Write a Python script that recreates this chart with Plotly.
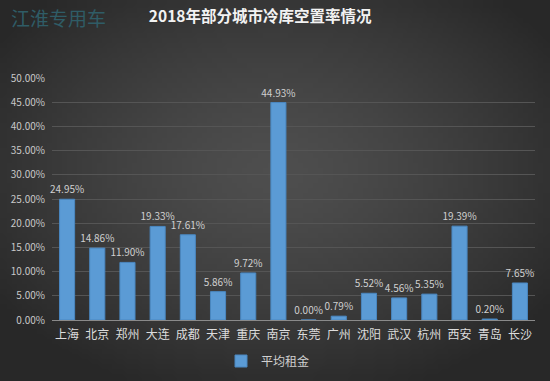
import plotly.graph_objects as go
import zlib, struct, base64, math

cities = ["上海", "北京", "郑州", "大连", "成都", "天津", "重庆", "南京",
          "东莞", "广州", "沈阳", "武汉", "杭州", "西安", "青岛", "长沙"]
vacancy = [24.95, 14.86, 11.90, 19.33, 17.61, 5.86, 9.72, 44.93,
           0.00, 0.79, 5.52, 4.56, 5.35, 19.39, 0.20, 7.65]
series_name = "平均租金"
title_text = "2018年部分城市冷库空置率情况"
watermark = "江淮专用车"

# radial gradient background image (style only)
W, H = 110, 76
rows = []
for j in range(H):
    row = bytearray([0])
    for i in range(W):
        dx = (i / (W - 1) - 0.5) / 0.62
        dy = (j / (H - 1) - 0.45) / 0.62
        d = min(1.0, math.sqrt(dx * dx + dy * dy))
        v = int(round(78 - (78 - 40) * d ** 1.4))
        row += bytes([v, v, v])
    rows.append(bytes(row))
raw = b"".join(rows)
def chunk(t, d):
    c = struct.pack(">I", len(d)) + t + d
    return c + struct.pack(">I", zlib.crc32(t + d) & 0xffffffff)
png = b"\x89PNG\r\n\x1a\n" + chunk(b"IHDR", struct.pack(">IIBBBBB", W, H, 8, 2, 0, 0, 0)) \
    + chunk(b"IDAT", zlib.compress(raw, 9)) + chunk(b"IEND", b"")
bg_src = "data:image/png;base64," + base64.b64encode(png).decode()

font = "Noto Sans CJK SC, Liberation Sans, sans-serif"
L, R, T, B = 52, 15, 78, 61
pw = 550 - L - R
ph = 381 - T - B

fig = go.Figure()
fig.add_trace(go.Bar(
    x=cities,
    y=[v / 100 for v in vacancy],
    name=series_name,
    marker=dict(color="#5b9bd5", line=dict(color="#4a87c0", width=1)),
    text=[f"{v:.2f}%" for v in vacancy],
    textposition="outside",
    constraintext="none",
    textfont=dict(color="#d0d0d0", size=10, family=font),
    cliponaxis=False,
))

fig.update_layout(
    width=550, height=381,
    margin=dict(l=L, r=R, t=T, b=B, autoexpand=False),
    paper_bgcolor="#3a3a3a",
    plot_bgcolor="rgba(0,0,0,0)",
    bargap=0.5,
    showlegend=True,
    legend=dict(orientation="h", xref="container", x=268 / 550, xanchor="center",
                yref="container", y=(381 - 361) / 381, yanchor="middle",
                font=dict(color="#d0d0d0", size=12, family=font),
                itemwidth=30, bgcolor="rgba(0,0,0,0)"),
    title=dict(text="<b>" + title_text + "</b>", x=0.473, xanchor="center",
               y=1 - 17 / 381, yanchor="middle",
               font=dict(color="#f2f2f2", size=15.5, family=font)),
    images=[dict(source=bg_src, xref="paper", yref="paper",
                 x=-L / pw, y=1 + T / ph, sizex=550 / pw, sizey=381 / ph,
                 xanchor="left", yanchor="top",
                 sizing="stretch", layer="below")],
    annotations=[dict(text=watermark, xref="paper", yref="paper",
                      x=-L / pw + 9 / pw, y=1 + (T - 17) / ph, xanchor="left", yanchor="middle",
                      showarrow=False,
                      font=dict(color="#2f5c66", size=19, family=font))],
    font=dict(family=font),
)

fig.update_yaxes(range=[0, 0.5], dtick=0.05, tickformat=".2%",
                 gridcolor="#555555", gridwidth=1, zeroline=False,
                 tickfont=dict(color="#c8c8c8", size=10, family=font),
                 showline=False, ticks="", ticklabelstandoff=6)
fig.update_xaxes(showline=True, linecolor="#8a8a8a", linewidth=1,
                 tickfont=dict(color="#dcdcdc", size=12, family=font),
                 ticks="", showgrid=False, ticklabelstandoff=4)

fig.write_html("out.html", config={"displayModeBar": False},
               post_script="document.body.style.margin='0';")
